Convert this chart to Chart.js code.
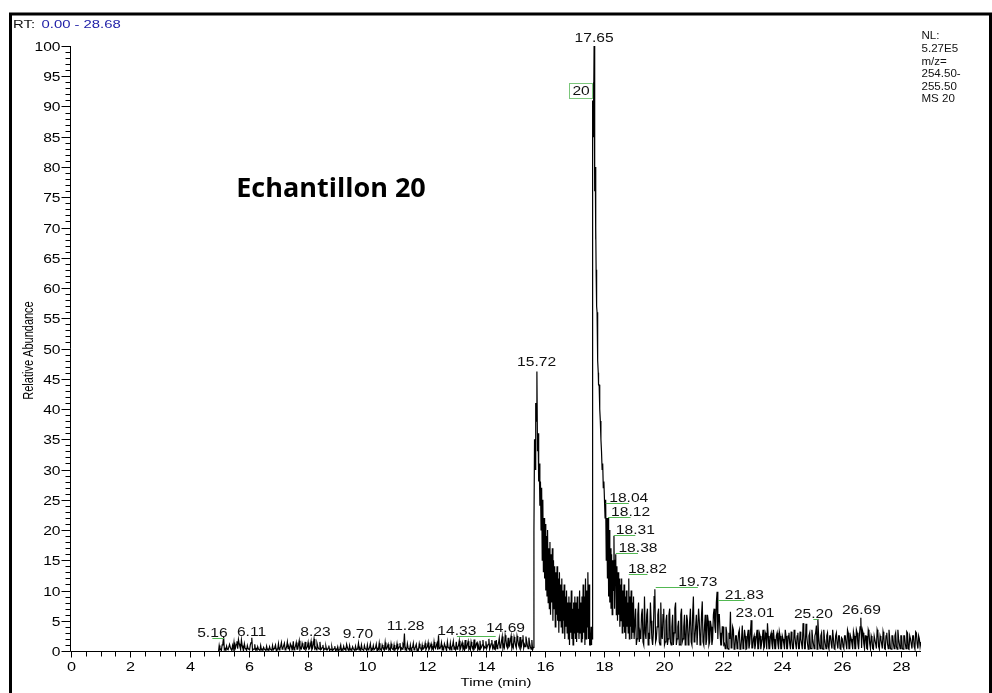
<!DOCTYPE html>
<html>
<head>
<meta charset="utf-8">
<title>Echantillon 20</title>
<script src="https://cdn.jsdelivr.net/npm/chart.js@4.4.1/dist/chart.umd.min.js"></script>
<style>
  html, body { margin: 0; padding: 0; background: #fff; }
  canvas { display: block; }
</style>
</head>
<body>
<canvas id="chromo" width="992" height="693"></canvas>
<script>
// Relative abundance (%), one run per stretch of scans.
// Each run: first retention time (min), scan spacing (min), values.
const leadIn = [[4.98, 0]];

const earlyStart = 5.00, earlyStep = 0.05;
const earlyBaseline = [
  0.9,0.3,1.0,2.3,0.4,0.8,0.2,1.1,0.3,0.9,1.4,0.5,1.6,1.9,0.7,1.8,0.4,1.2,0.3,0.9,
  0.4,1.0,2.2,0.3,1.1,0.4,0.7,0.2,0.9,0.3,0.6,0.2,0.8,0.3,0.7,0.2,0.9,0.4,1.0,0.3,
  1.2,0.4,1.4,0.5,1.3,0.3,1.5,0.6,1.2,0.4,1.6,0.5,1.4,0.3,1.7,0.6,1.3,0.4,1.5,0.5,
  1.4,0.4,1.6,0.5,2.0,0.6,1.3,0.4,1.5,0.3,1.0,0.4,0.8,0.2,0.9,0.3,0.7,0.2,0.8,0.3,
  0.7,0.2,1.0,0.3,0.8,0.4,1.1,0.2,0.9,0.3,0.7,0.2,0.8,0.3,1.3,0.4,1.0,0.2,0.9,0.3,
  1.0,0.3,1.2,0.4,0.9,0.2,1.1,0.4,1.3,0.3,1.0,0.5,1.4,0.3,1.1,0.4,1.2,0.3,1.0,0.4,
  1.2,0.4,1.3,0.5,1.1,2.9,0.4,1.2,0.3,1.0,0.5,1.3,0.4,1.1,0.3,1.2,0.5,1.0,0.4,1.3,
  0.5,1.4,0.4,1.2,0.6,1.5,0.4,1.3,2.6,0.5,1.4,0.6,1.2,0.4,1.5,0.5,1.3,0.6,1.6,0.5,
  1.5,0.6,1.7,0.5,1.4,0.7,1.8,0.5,1.6,0.6,1.5,0.7,1.9,0.6,1.4,0.8,1.7,0.6,1.8,0.7,
  1.6,0.8,2.0,0.7,1.8,0.9,1.7,1.8,0.8,2.1,0.7,2.4,1.0,2.6,0.8,2.2,0.9,2.5,1.0,2.3,
  0.9,2.5,1.0,2.3,0.8,2.6,1.1,2.4,0.9,2.2,0.7,1.8,0.6
];
// scans in between the ones above (5.025, 5.075, ...)
const earlyMidStart = 5.025;
const earlyBaselineMid = [
  0.2,0.1,1.3,0.2,0.1,0.3,0.2,0.6,0.1,0.3,0.2,1.1,0.4,1.2,0.3,0.9,0.2,0.5,0.1,0.4,
  0.2,1.4,0.1,0.3,0.2,0.1,0.3,0.1,0.2,0.1,0.3,0.1,0.2,0.1,0.3,0.1,0.2,0.6,0.1,0.3,
  0.2,0.8,0.3,0.9,0.2,0.7,0.4,0.2,0.9,0.3,0.2,0.8,0.3,1.0,0.2,0.4,0.9,0.3,0.2,0.7,
  0.3,0.9,0.2,1.1,0.4,0.2,0.8,0.3,0.2,0.6,0.1,0.3,0.2,0.5,0.1,0.2,0.1,0.4,0.1,0.2,
  0.1,0.5,0.1,0.2,0.3,0.1,0.6,0.1,0.2,0.1,0.4,0.1,0.2,0.5,0.2,0.1,0.3,0.1,0.4,0.1,
  0.2,0.6,0.1,0.3,0.2,0.5,0.1,0.3,0.2,0.1,0.6,0.2,0.3,0.7,0.2,0.1,0.5,0.2,0.1,0.4,
  0.2,0.7,0.1,0.3,0.8,0.2,0.1,0.5,0.2,0.1,0.6,0.2,0.7,0.1,0.2,0.5,0.1,0.3,0.6,0.2,
  0.7,0.2,0.8,0.3,0.2,0.6,0.9,0.2,0.4,0.7,0.2,0.3,0.8,0.2,0.6,0.3,0.2,0.9,0.3,0.2,
  0.3,0.9,0.2,1.0,0.3,0.2,0.4,1.1,0.3,0.2,0.9,0.3,0.4,1.2,0.3,0.2,0.4,1.0,0.3,0.5,
  0.4,1.1,0.3,1.2,0.5,0.3,0.6,0.4,1.3,0.5,1.6,0.4,0.6,1.9,0.5,0.7,1.8,0.4,0.6,1.7,
  0.5,1.9,0.6,0.4,1.8,0.5,0.7,1.6,0.4,1.2,0.3,0.2
];

const firstPeakStart = 15.62, firstPeakStep = 0.02;
const firstPeak = [
  20,35,30,41,38,46.2,33,36,28,31,
  24,28,20,27,15,25,13,22,12,21,
  10,19,9,20,8,17,7,18,6,16,
  8,17,5,15,7,14,4,13,6,14,
  5,12,3,13,5,11,4,12,3,10,
  5,11,2,9,4,10,3,8,2,9,
  1,8,3,10,2,7,1,8,3,9,
  2,8,1.5,9,3,7,2,10,3,8,
  1.5,9,2,11,3,9,1,12,2,10,
  4,13,2,11,1
];

const apexStart = 17.52, apexStep = 0.01;
const mainApex = [
  1,3,2,4,1,2,2,88,80,91,85,94,90,100,93,89,76,80,68,70,62,63,57,56,52,50,48,46,44
];

const tailStart = 17.82, tailStep = 0.02;
const mainTail = [
  44,40,38,35,33,30,31,27,28,25,
  22,25,15,22,12,22,9,20,8,17,
  7,16,6,15,10,19,7,15,16,6,
  14,5,13,6,12,4,11,5,12,3,
  10,4,11,3,9,2,10,4,8,3,
  12,2,9,4,10,2,8,3,9,2
];

const lateStart = 19.05, lateStep = 0.05;
const lateBaseline = [
  7,2,8,3,6,1.5,9,2,7,3,8,2,3,10.2,2,6,1.5,8,2,7,
  1.5,6,2,7,1,6,3,8,2,5,1,7,2,6,1.5,5,2,7,1,9,
  2,6,1,5,2,8.2,1,6,2,5,1.5,4,2,7,3,9.8,6,3,1,4,
  1.2,4,0.5,3,6.5,0.7,3.5,0.4,2.5,1.2,3.5,0.4,4.2,1.2,2.5,0.4,3.5,1.2,5.1,0.5,
  2.5,1.2,3.5,0.4,2.5,1.2,3.5,0.7,2.5,4.6,0.4,2.5,1.2,3.5,0.4,2.5,1.2,3.2,0.4,2.5,
  1.2,3.5,0.4,2.5,1.2,3.2,0.4,3.5,1.2,2.5,0.4,3.2,1.2,4.6,0.4,4.5,1.2,2.5,0.4,3.5,
  1.2,2.5,4.2,5.3,1.2,2.5,0.4,3.5,1.2,2.5,0.7,2.5,1.2,3.5,0.4,2.5,1.2,2.5,0.4,2.2,
  0.7,2.5,1.2,3.5,0.4,2.5,1.2,3.2,0.4,3.5,1.2,2.5,5.5,3.5,1.2,2.5,0.4,3.5,1.2,2.5,
  0.4,2.5,1.2,3.5,0.7,2.5,1.2,3.2,0.4,2.5,1.2,3.5,0.4,2.5,1.2,2.5,0.7,3.5,1.2,2.5,
  0.4,2.5,1.2,3.2,0.4,2.5,1.2,2.5,0.7,3.2,1.2,2.5,0.7
];
const lateMidStart = 19.075;
const lateBaselineMid = [
  1,6,1.5,2,7,1,3,6,1,2,5,1,9,1.5,4,7,1,3,6,1,
  5,1,6,1.5,4,1,7,1,4,1,6,1.5,4,1,6,1,5,1.5,6,1.5,
  4,1,7,1,6,1.5,4,1,6,1,5,1,6,4,8,2,6,1,4,1,
  0.4,3,0.3,2,0.5,4,0.3,2.5,0.4,3,0.3,2,0.4,3.5,0.3,2.5,0.4,3,0.5,2,
  0.3,2.5,0.4,3,0.3,2,0.4,3,0.3,2.5,0.4,3,0.3,2,0.4,3,0.3,2.5,0.4,2,
  0.3,2.5,0.4,3,0.3,2,0.4,2.5,0.3,3,0.4,2,0.3,3,0.4,2.5,0.3,3,0.4,2,
  0.4,3,0.3,2.5,0.4,3,0.3,2,0.4,3,0.3,2.5,0.4,2,0.3,3,0.4,2.5,0.3,2,
  0.4,2.5,0.3,3,0.4,2,0.3,2.5,0.4,3,0.3,4,0.5,3,0.4,2.5,0.3,3,0.4,2,
  0.3,2.5,0.4,3,0.3,2,0.4,2.5,0.3,3,0.4,2,0.3,2.5,0.4,3,0.3,2,0.4,2.5,
  0.3,2.5,0.4,3,0.3,2,0.4,2.5,0.3,3,0.4,2
];
const tailOut = [[28.68, 1.5]];

// Peak annotations: label text, apex RT, RT under the label centre, abundance at text baseline
const peakText   = ['5.16','6.11','8.23','9.70','11.28','14.33','14.69','15.72','17.65','18.04','18.12','18.31','18.38','18.82','19.73','21.83','23.01','25.20','26.69'];
const peakTimes  = [5.16, 6.11, 8.23, 9.70, 11.28, 14.33, 14.69, 15.72, 17.65, 18.04, 18.12, 18.31, 18.38, 18.82, 19.73, 21.83, 23.01, 25.20, 26.69];
const labelTimes = [4.77, 6.09, 8.25, 9.68, 11.29, 13.02, 14.66, 15.71, 17.65, 18.82, 18.88, 19.04, 19.13, 19.45, 21.15, 22.72, 23.08, 25.05, 26.67];
const labelLevels = [2.3, 2.5, 2.5, 2.15, 3.45, 2.65, 3.2, 47.1, 100.66, 24.6, 22.3, 19.3, 16.4, 12.9, 10.7, 8.6, 5.6, 5.5, 6.1];

// Component box next to the main peak
const boxText = '20', boxTime = 17.21, boxLevel = 92.6;

// Axis ticks: minor every 1 % / 0.5 min, labelled every 5 % / 2 min
const yMinorStep = 1, yLabelStep = 5;
const xMinorStep = 0.5, xLabelStep = 2;

const nlLines = ['NL:', '5.27E5', 'm/z=', '254.50-', '255.50', 'MS 20'];
const rtRange = '0.00 - 28.68';

function addRun(out, start, step, values) {
  values.forEach((v, i) => out.push({ x: +(start + i * step).toFixed(3), y: v }));
}
const trace = [];
leadIn.forEach(p => trace.push({ x: p[0], y: p[1] }));
addRun(trace, earlyStart, earlyStep, earlyBaseline);
addRun(trace, earlyMidStart, earlyStep, earlyBaselineMid);
addRun(trace, firstPeakStart, firstPeakStep, firstPeak);
addRun(trace, apexStart, apexStep, mainApex);
addRun(trace, tailStart, tailStep, mainTail);
addRun(trace, lateStart, lateStep, lateBaseline);
addRun(trace, lateMidStart, lateStep, lateBaselineMid);
tailOut.forEach(p => trace.push({ x: p[0], y: p[1] }));
trace.sort((a, b) => a.x - b.x);

const FONT = '"Liberation Sans", Arial, sans-serif';
const SX = 1.3; // the original screenshot is stretched sideways

function text(ctx, str, x, y, size, align, sx, color, font) {
  ctx.save();
  ctx.font = font || (size + 'px ' + FONT);
  ctx.fillStyle = color || '#000';
  ctx.textAlign = align;
  ctx.textBaseline = 'alphabetic';
  ctx.translate(x, y);
  ctx.scale(sx, 1);
  ctx.fillText(str, 0, 0);
  ctx.restore();
}

function stepTicks(scale, step) {
  const out = [];
  for (let v = scale.min; v <= scale.max + 1e-9; v += step) out.push({ value: +v.toFixed(3) });
  scale.ticks = out;
}
const isMultiple = (v, step) => Math.abs(v / step - Math.round(v / step)) < 1e-6;

const decor = {
  id: 'decor',
  beforeDraw(chart) {
    const ctx = chart.ctx;
    ctx.save();
    ctx.fillStyle = '#fff';
    ctx.fillRect(0, 0, chart.width, chart.height);
    ctx.restore();
  },
  afterDraw(chart) {
    const { ctx, chartArea: a, scales: { x, y } } = chart;
    ctx.save();
    ctx.strokeStyle = '#000';
    ctx.lineWidth = 1;

    // axis lines
    const ax = Math.round(a.left) - 0.5, ay = Math.round(a.bottom) + 0.5;
    ctx.beginPath();
    ctx.moveTo(ax, a.top); ctx.lineTo(ax, ay);
    ctx.lineTo(a.right, ay);
    ctx.stroke();

    y.ticks.forEach(t => {
      const py = Math.round(y.getPixelForValue(t.value)) + 0.5;
      const major = isMultiple(t.value, yLabelStep);
      ctx.beginPath();
      ctx.moveTo(ax - (major ? 9 : 5), py); ctx.lineTo(ax, py);
      ctx.stroke();
      if (major) text(ctx, String(t.value), ax - 10, py + 4, 12, 'right', SX);
    });

    x.ticks.forEach(t => {
      const px = Math.round(x.getPixelForValue(t.value)) + 0.5;
      const major = isMultiple(t.value, xLabelStep);
      ctx.beginPath();
      ctx.moveTo(px, ay); ctx.lineTo(px, ay + (major ? 6 : 5));
      ctx.stroke();
      if (major) text(ctx, String(Math.round(t.value)), px, ay + 19, 12.5, 'center', SX);
    });

    text(ctx, 'Time (min)', (a.left + a.right) / 2, 686, 11.5, 'center', SX);

    ctx.save();
    ctx.font = '11px ' + FONT;
    ctx.fillStyle = '#000';
    ctx.textAlign = 'center';
    ctx.translate(32.5, 350.5);
    ctx.rotate(-Math.PI / 2);
    ctx.scale(1, SX);
    ctx.fillText('Relative Abundance', 0, 0);
    ctx.restore();

    // peak labels with green leaders
    peakText.forEach((s, i) => {
      const lx = x.getPixelForValue(labelTimes[i]);
      const ly = y.getPixelForValue(labelLevels[i]);
      const apx = x.getPixelForValue(peakTimes[i]);
      if (Math.abs(lx - apx) > 3) {
        ctx.save();
        ctx.strokeStyle = '#52b852';
        ctx.beginPath();
        const gy = Math.round(ly) + 1.5;
        ctx.moveTo(Math.min(lx, apx), gy); ctx.lineTo(Math.max(lx, apx), gy);
        ctx.stroke();
        ctx.restore();
      }
      text(ctx, s, lx, ly, 12, 'center', SX, '#111');
    });

    // component box
    const bx = x.getPixelForValue(boxTime), by = y.getPixelForValue(boxLevel);
    ctx.save();
    ctx.strokeStyle = '#7cc77c';
    ctx.strokeRect(Math.round(bx) - 11.5, Math.round(by) - 7.5, 23, 15);
    ctx.restore();
    text(ctx, boxText, bx, by + 4.5, 12, 'center', SX, '#111');

    const nlY = [39, 52, 64.5, 77, 89.5, 102];
    nlLines.forEach((s, i) => text(ctx, s, 921.5, nlY[i], 11, 'left', 1.05, '#111'));

    text(ctx, 'RT:', 13, 27.5, 11, 'left', 1.35, '#111');
    text(ctx, rtRange, 41.5, 27.5, 11, 'left', 1.35, '#1c1ca6');

    text(ctx, 'Echantillon 20', 331, 196.5, 27, 'center', 1, '#000', 'bold 27px "Open Sans", sans-serif');

    // outer frame
    ctx.lineWidth = 3;
    ctx.strokeStyle = '#000';
    ctx.strokeRect(10.5, 14, 980, 690);
    ctx.restore();
  }
};

new Chart(document.getElementById('chromo'), {
  type: 'line',
  data: {
    datasets: [{
      data: trace,
      borderColor: '#000',
      borderWidth: 1.2,
      pointRadius: 0,
      tension: 0,
      fill: false
    }]
  },
  options: {
    responsive: false,
    animation: false,
    devicePixelRatio: 1,
    layout: { padding: { left: 71, right: 71, top: 46, bottom: 42 } },
    plugins: { legend: { display: false }, tooltip: { enabled: false } },
    scales: {
      x: { type: 'linear', min: 0, max: 28.68, display: false,
           ticks: { autoSkip: false },
           afterBuildTicks: s => stepTicks(s, xMinorStep) },
      y: { min: 0, max: 100, display: false,
           ticks: { autoSkip: false },
           afterBuildTicks: s => stepTicks(s, yMinorStep) }
    }
  },
  plugins: [decor]
});
</script>
</body>
</html>
